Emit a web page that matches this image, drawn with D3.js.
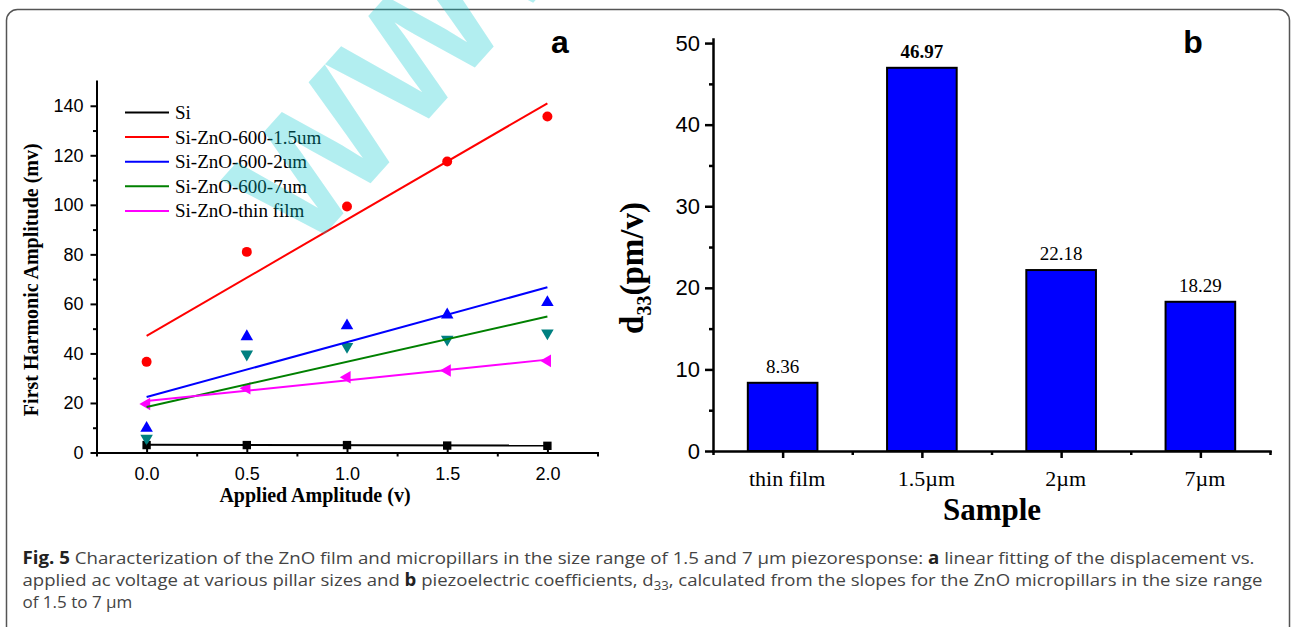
<!DOCTYPE html>
<html>
<head>
<meta charset="utf-8">
<script src="https://cdn.jsdelivr.net/npm/d3@7"></script>
<style>
  body { margin: 0; background: #fff; }
  svg text { fill: #000; }
</style>
</head>
<body>
<svg id="fig" width="1292" height="627"></svg>
<script>
// panel a: first harmonic amplitude vs applied amplitude
const amplitudes = [0, 0.5, 1.0, 1.5, 2.0];
const seriesNames = ['Si', 'Si-ZnO-600-1.5um', 'Si-ZnO-600-2um', 'Si-ZnO-600-7um', 'Si-ZnO-thin film'];
const siVals = [3.0, 3.0, 3.0, 2.8, 2.7];
const zno15Vals = [36.6, 81.0, 99.3, 117.5, 135.7];
const zno2Vals = [9.8, 46.8, 51.2, 55.6, 60.6];
const zno7Vals = [5.7, 39.7, 42.8, 45.7, 48.2];
const thinVals = [19.6, 25.9, 30.4, 33.1, 37.0];
// linear fit: value at 0 V and at 2 V
const fitAt0 = [3.1, 47.1, 22.4, 18.4, 20.8];
const fitAt2 = [2.8, 141.0, 66.7, 54.9, 37.5];
const yTicksA = [0, 20, 40, 60, 80, 100, 120, 140];
const xTicksA = [0, 0.5, 1.0, 1.5, 2.0];

// panel b: d33 per sample
const samples = ['thin film', '1.5\u00b5m', '2\u00b5m', '7\u00b5m'];
const d33 = [8.36, 46.97, 22.18, 18.29];
const yTicksB = [0, 10, 20, 30, 40, 50];

const svg = d3.select('#fig');

// outer frame
svg.append('rect')
  .attr('x', 6.5).attr('y', 9.5)
  .attr('width', 1283).attr('height', 650)
  .attr('rx', 11)
  .attr('fill', 'none')
  .attr('stroke', '#555')
  .attr('stroke-width', 1.5);

const serif = '"Liberation Serif", "Times New Roman", serif';
const sans = '"Liberation Sans", Arial, sans-serif';

// ---------- panel a ----------
const xA = d3.scaleLinear().domain([-0.25, 2.25]).range([96.5, 597.5]);
const yA = d3.scaleLinear().domain([0, 150]).range([452.5, 81]);

const gA = svg.append('g');

function styleAxis(g, font, size, width) {
  g.selectAll('path, line').attr('stroke', '#000').attr('stroke-width', width);
  g.select('.domain').attr('stroke-linecap', 'square');
  g.selectAll('text').attr('font-family', font).attr('font-size', size).attr('fill', '#000');
}

gA.append('g')
  .attr('transform', 'translate(96.5,0)')
  .call(d3.axisLeft(yA).tickValues(d3.range(10, 150, 20)).tickSize(3.5).tickFormat(''))
  .call(g => g.select('.domain').remove())
  .call(g => styleAxis(g, sans, 18, 2));

gA.append('g')
  .attr('transform', 'translate(0,452.5)')
  .call(d3.axisBottom(xA).tickValues(d3.range(-0.25, 2.3, 0.5)).tickSize(4).tickFormat(''))
  .call(g => g.select('.domain').remove())
  .call(g => styleAxis(g, sans, 18, 2));

gA.append('g')
  .attr('transform', 'translate(96.5,0)')
  .call(d3.axisLeft(yA).tickValues(yTicksA).tickSizeInner(6).tickSizeOuter(0).tickPadding(7).tickFormat(d3.format('d')))
  .call(g => styleAxis(g, sans, 18, 2));

gA.append('g')
  .attr('transform', 'translate(0,452.5)')
  .call(d3.axisBottom(xA).tickValues(xTicksA).tickSizeInner(-5).tickSizeOuter(0).tickPadding(15).tickFormat(d3.format('.1f')))
  .call(g => styleAxis(g, sans, 18, 2));

gA.append('text')
  .attr('transform', `translate(38,${(yA(0) + yA(150)) / 2 + 13}) rotate(-90)`)
  .attr('text-anchor', 'middle')
  .attr('font-family', serif).attr('font-weight', 'bold').attr('font-size', 20)
  .text('First Harmonic Amplitude (mv)');

gA.append('text')
  .attr('x', 315).attr('y', 502)
  .attr('text-anchor', 'middle')
  .attr('font-family', serif).attr('font-weight', 'bold').attr('font-size', 20)
  .text('Applied Amplitude (v)');

gA.append('text')
  .attr('x', 560).attr('y', 53)
  .attr('text-anchor', 'middle')
  .attr('font-family', sans).attr('font-weight', 'bold').attr('font-size', 32)
  .text('a');

const seriesVals = [siVals, zno15Vals, zno2Vals, zno7Vals, thinVals];
const seriesColors = ['#000000', '#ff0000', '#0000ff', '#008000', '#ff00ff'];
const markerColors = ['#000000', '#ff0000', '#0000ff', '#008080', '#ff00ff'];
const markerShapes = ['square', 'circle', 'up', 'down', 'left'];

function markerPath(shape) {
  if (shape === 'square') return d3.symbol(d3.symbolSquare, 70)();
  if (shape === 'circle') return d3.symbol(d3.symbolCircle, 78)();
  return d3.symbol(d3.symbolTriangle, 68)();
}
const shapeRot = { square: 0, circle: 0, up: 0, down: 180, left: -90 };

seriesVals.forEach((vals, s) => {
  gA.append('g').selectAll('path')
    .data(vals)
    .enter().append('path')
    .attr('d', markerPath(markerShapes[s]))
    .attr('transform', (v, i) => `translate(${xA(amplitudes[i])},${yA(v)}) rotate(${shapeRot[markerShapes[s]]})`)
    .attr('fill', markerColors[s]);
});

const fitLine = d3.line().x(d => xA(d[0])).y(d => yA(d[1]));
seriesVals.forEach((vals, s) => {
  gA.append('path')
    .datum([[amplitudes[0], fitAt0[s]], [amplitudes[amplitudes.length - 1], fitAt2[s]]])
    .attr('d', fitLine)
    .attr('fill', 'none')
    .attr('stroke', seriesColors[s])
    .attr('stroke-width', 2);
});

// legend
const legend = gA.append('g').attr('transform', 'translate(125,112.5)');
seriesNames.forEach((name, i) => {
  const row = legend.append('g').attr('transform', `translate(0,${i * 24.6})`);
  row.append('line').attr('x1', 0).attr('x2', 44).attr('y1', 0).attr('y2', 0)
    .attr('stroke', seriesColors[i]).attr('stroke-width', 2);
  row.append('text').attr('x', 50).attr('y', 6.5)
    .attr('font-family', serif).attr('font-size', 19)
    .text(name);
});

// ---------- panel b ----------
const xB = d3.scaleLinear().domain([0.5, 4.5]).range([713, 1270]);
const yB = d3.scaleLinear().domain([0, 50.5]).range([451, 39]);
const gB = svg.append('g');

gB.selectAll('rect.bar')
  .data(d33)
  .enter().append('rect')
  .attr('class', 'bar')
  .attr('x', (v, i) => xB(i + 1 - 0.25))
  .attr('width', xB(1.25) - xB(0.75))
  .attr('y', v => yB(v))
  .attr('height', v => yB(0) - yB(v))
  .attr('fill', '#0000ff')
  .attr('stroke', '#000')
  .attr('stroke-width', 2);

const maxD = d3.max(d33);
gB.selectAll('text.val')
  .data(d33)
  .enter().append('text')
  .attr('class', 'val')
  .attr('x', (v, i) => xB(i + 1))
  .attr('y', v => yB(v) - 10)
  .attr('text-anchor', 'middle')
  .attr('font-family', serif).attr('font-size', 19)
  .attr('font-weight', v => v === maxD ? 'bold' : 'normal')
  .text(v => v.toFixed(2));

gB.append('g')
  .attr('transform', 'translate(713,0)')
  .call(d3.axisLeft(yB).tickValues(d3.range(5, 50, 10)).tickSize(4).tickFormat(''))
  .call(g => g.select('.domain').remove())
  .call(g => styleAxis(g, sans, 22, 2.5));

gB.append('g')
  .attr('transform', 'translate(0,451)')
  .call(d3.axisBottom(xB).tickValues(d3.range(0.5, 4.6, 1)).tickSize(4).tickFormat(''))
  .call(g => g.select('.domain').remove())
  .call(g => styleAxis(g, sans, 22, 2.5));

gB.append('g')
  .attr('transform', 'translate(713,0)')
  .call(d3.axisLeft(yB).tickValues(yTicksB).tickSizeInner(8).tickSizeOuter(0).tickPadding(5).tickFormat(d3.format('d')))
  .call(g => styleAxis(g, sans, 22, 2.5));

gB.append('g')
  .attr('transform', 'translate(0,451)')
  .call(d3.axisBottom(xB).tickValues([1, 2, 3, 4]).tickSizeInner(7).tickSizeOuter(0).tickPadding(12.5).tickFormat(i => samples[i - 1]))
  .call(g => styleAxis(g, serif, 22, 2.5))
  .call(g => g.selectAll('text').attr('dx', 4));

gB.append('text')
  .attr('x', 992).attr('y', 520)
  .attr('text-anchor', 'middle')
  .attr('font-family', serif).attr('font-weight', 'bold').attr('font-size', 31)
  .text('Sample');

const yLabB = gB.append('text')
  .attr('transform', `translate(643,${(yB(0) + yB(50.5)) / 2 + 23}) rotate(-90)`)
  .attr('text-anchor', 'middle')
  .attr('font-family', serif).attr('font-weight', 'bold').attr('font-size', 33);
yLabB.append('tspan').text('d');
yLabB.append('tspan').attr('font-size', 20).attr('dy', 8).text('33');
yLabB.append('tspan').attr('dy', -8).text('(pm/v)');

gB.append('text')
  .attr('x', 1193).attr('y', 53)
  .attr('text-anchor', 'middle')
  .attr('font-family', sans).attr('font-weight', 'bold').attr('font-size', 32)
  .text('b');

// ---------- watermark ----------
svg.append('text')
  .attr('transform', 'translate(305,256) rotate(-48)')
  .attr('font-family', sans).attr('font-weight', 'bold').attr('font-size', 165)
  .style('fill', 'rgba(0,198,205,0.3)')
  .text('WWW');

// ---------- caption ----------
const cap = svg.append('g')
  .attr('font-family', '"Open Sans", "Noto Sans", sans-serif')
  .attr('font-size', 17);

const capLine1 = cap.append('text').attr('x', 22.5).attr('y', 563.5)
  .attr('textLength', 1232).attr('lengthAdjust', 'spacingAndGlyphs').style('fill', '#444');
capLine1.append('tspan').attr('font-weight', 'bold').style('fill', '#222').text('Fig. 5');
capLine1.append('tspan').text(' Characterization of the ZnO film and micropillars in the size range of 1.5 and 7 \u00b5m piezoresponse: ');
capLine1.append('tspan').attr('font-weight', 'bold').style('fill', '#222').text('a');
capLine1.append('tspan').text(' linear fitting of the displacement vs.');

const capLine2 = cap.append('text').attr('x', 22.5).attr('y', 585.5)
  .attr('textLength', 1240).attr('lengthAdjust', 'spacingAndGlyphs').style('fill', '#444');
capLine2.append('tspan').text('applied ac voltage at various pillar sizes and ');
capLine2.append('tspan').attr('font-weight', 'bold').style('fill', '#222').text('b');
capLine2.append('tspan').text(' piezoelectric coefficients, d');
capLine2.append('tspan').attr('font-size', 12).attr('dy', 4).text('33');
capLine2.append('tspan').attr('dy', -4).text(', calculated from the slopes for the ZnO micropillars in the size range');

cap.append('text').attr('x', 22.5).attr('y', 607.5)
  .style('fill', '#444')
  .text('of 1.5 to 7 \u00b5m');
</script>
</body>
</html>
